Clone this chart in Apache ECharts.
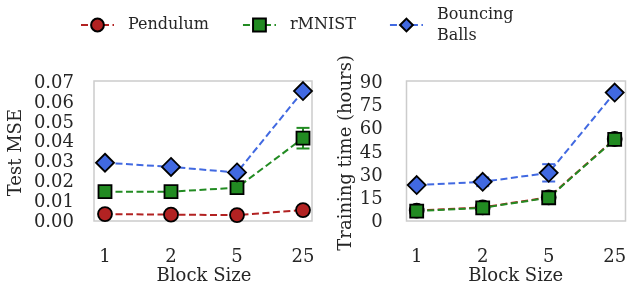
<!DOCTYPE html>
<html><head><meta charset="utf-8">
<script src="https://cdn.jsdelivr.net/npm/echarts@6/dist/echarts.min.js"></script>
<style>html,body{margin:0;padding:0;background:#fff}#c{width:627px;height:281px}</style>
</head><body><div id="c"></div>
<script>
const categories = ['1', '2', '5', '25'];
const seriesNames = ['Pendulum', 'rMNIST', 'Bouncing\nBalls'];
// Test MSE (left panel)
const msePendulum = [0.0040, 0.0037, 0.0035, 0.0060];
const mseRMNIST = [0.0153, 0.0153, 0.0173, 0.0423];
const mseBalls = [0.0299, 0.0278, 0.0250, 0.0661];
const mseErrPendulum = [0.0004, 0.0004, 0.0004, 0.0008];
const mseErrRMNIST = [0.0008, 0.0008, 0.0008, 0.0052];
const mseErrBalls = [0.0008, 0.0008, 0.0008, 0.0010];
// Training time in hours (right panel)
const timePendulum = [7.7, 9.8, 16.3, 54.0];
const timeRMNIST = [7.4, 9.5, 16.0, 53.7];
const timeBalls = [24.2, 26.3, 32.1, 84.0];
const timeErrPendulum = [0.5, 0.5, 0.6, 1.0];
const timeErrRMNIST = [0.5, 0.8, 1.0, 1.5];
const timeErrBalls = [1.0, 2.8, 5.6, 1.5];
const mseTicks = [0, 0.01, 0.02, 0.03, 0.04, 0.05, 0.06, 0.07];
const timeTicks = [0, 15, 30, 45, 60, 75, 90];

const colors = ['#b22222', '#228b22', '#4169e1'];
const symbols = ['circle', 'rect', 'diamond'];
const symbolSizes = [14, 13, 18];
const FONT = 'DejaVu Serif';
const TXT = '#262626';

const chart = echarts.init(document.getElementById('c'), null, {renderer: 'canvas'});

function errSeries(name, xi, yi, vals, errs, color) {
  return {
    type: 'custom', name: name, xAxisIndex: xi, yAxisIndex: yi, z: 3,
    data: vals.map((v, i) => [i, v, errs[i]]),
    encode: {x: 0, y: 1},
    renderItem: function (params, api) {
      const x = api.value(0), y = api.value(1), e = api.value(2);
      const top = api.coord([x, y + e]);
      const bot = api.coord([x, y - e]);
      const hw = 6.5;
      const st = {stroke: color, lineWidth: 2};
      return {type: 'group', children: [
        {type: 'line', shape: {x1: top[0], y1: top[1], x2: bot[0], y2: bot[1]}, style: st},
        {type: 'line', shape: {x1: top[0] - hw, y1: top[1], x2: top[0] + hw, y2: top[1]}, style: st},
        {type: 'line', shape: {x1: bot[0] - hw, y1: bot[1], x2: bot[0] + hw, y2: bot[1]}, style: st}
      ]};
    }
  };
}
function lineSeries(k, xi, yi, vals) {
  return {
    type: 'line', name: seriesNames[k], xAxisIndex: xi, yAxisIndex: yi, z: 4 + k,
    data: vals, symbol: symbols[k], symbolSize: symbolSizes[k], clip: false,
    showAllSymbol: true,
    lineStyle: {color: colors[k], width: 2, type: [7, 3.5]},
    itemStyle: {color: colors[k], borderColor: '#000', borderWidth: 1.8},
    emphasis: {disabled: true}
  };
}
function valueLabel(ticks, digits) {
  return function (v) {
    for (const t of ticks) if (Math.abs(t - v) < 1e-9) return t.toFixed(digits);
    return '';
  };
}

const axisFont = {fontFamily: FONT, fontSize: 18, color: TXT};
const G = {outerBoundsMode: 'none', containLabel: false};

const option = {
  animation: false,
  backgroundColor: '#fff',
  legend: {
    data: seriesNames, left: 80, top: 4, padding: 0, itemWidth: 33, itemHeight: 16, itemGap: 33,
    textStyle: {fontFamily: FONT, fontSize: 16, color: TXT, lineHeight: 21, padding: [0, 0, 0, 9]},
    selectedMode: false
  },
  grid: [
    Object.assign({left: 94, right: 315, top: 81, bottom: 60, show: true, borderColor: '#cccccc', borderWidth: 1.5, backgroundColor: 'transparent'}, G),
    Object.assign({left: 105, right: 324, top: 83.3, bottom: 59}, G),
    Object.assign({left: 406.5, right: 1.5, top: 81, bottom: 60, show: true, borderColor: '#cccccc', borderWidth: 1.5, backgroundColor: 'transparent'}, G),
    Object.assign({left: 416.7, right: 12.3, top: 83.3, bottom: 58.5}, G)
  ],
  xAxis: [
    {gridIndex: 0, type: 'category', data: categories, show: false},
    {gridIndex: 1, type: 'category', data: categories, boundaryGap: false,
      axisLine: {show: false}, axisTick: {show: false}, splitLine: {show: false},
      axisLabel: Object.assign({margin: 26}, axisFont),
      name: 'Block Size', nameLocation: 'middle', nameGap: 42, nameTextStyle: axisFont},
    {gridIndex: 2, type: 'category', data: categories, show: false},
    {gridIndex: 3, type: 'category', data: categories, boundaryGap: false,
      axisLine: {show: false}, axisTick: {show: false}, splitLine: {show: false},
      axisLabel: Object.assign({margin: 26}, axisFont),
      name: 'Block Size', nameLocation: 'middle', nameGap: 42, nameTextStyle: axisFont}
  ],
  yAxis: [
    {gridIndex: 0, type: 'value', show: false},
    {gridIndex: 1, type: 'value', min: 0, max: 0.07, interval: 0.01,
      axisLine: {show: false}, axisTick: {show: false}, splitLine: {show: false},
      axisLabel: Object.assign({margin: 31, formatter: valueLabel(mseTicks, 2)}, axisFont),
      name: 'Test MSE', nameLocation: 'middle', nameGap: 80, nameTextStyle: axisFont},
    {gridIndex: 2, type: 'value', show: false},
    {gridIndex: 3, type: 'value', min: 0, max: 90, interval: 15,
      axisLine: {show: false}, axisTick: {show: false}, splitLine: {show: false},
      axisLabel: Object.assign({margin: 34, formatter: valueLabel(timeTicks, 0)}, axisFont),
      name: 'Training time (hours)', nameLocation: 'middle', nameGap: 61, nameTextStyle: axisFont}
  ],
  series: [
    errSeries('e0', 1, 1, msePendulum, mseErrPendulum, colors[0]),
    errSeries('e1', 1, 1, mseRMNIST, mseErrRMNIST, colors[1]),
    errSeries('e2', 1, 1, mseBalls, mseErrBalls, colors[2]),
    lineSeries(0, 1, 1, msePendulum),
    lineSeries(1, 1, 1, mseRMNIST),
    lineSeries(2, 1, 1, mseBalls),
    errSeries('f0', 3, 3, timePendulum, timeErrPendulum, colors[0]),
    errSeries('f1', 3, 3, timeRMNIST, timeErrRMNIST, colors[1]),
    errSeries('f2', 3, 3, timeBalls, timeErrBalls, colors[2]),
    lineSeries(0, 3, 3, timePendulum),
    lineSeries(1, 3, 3, timeRMNIST),
    lineSeries(2, 3, 3, timeBalls)
  ]
};
chart.setOption(option);
</script></body></html>
